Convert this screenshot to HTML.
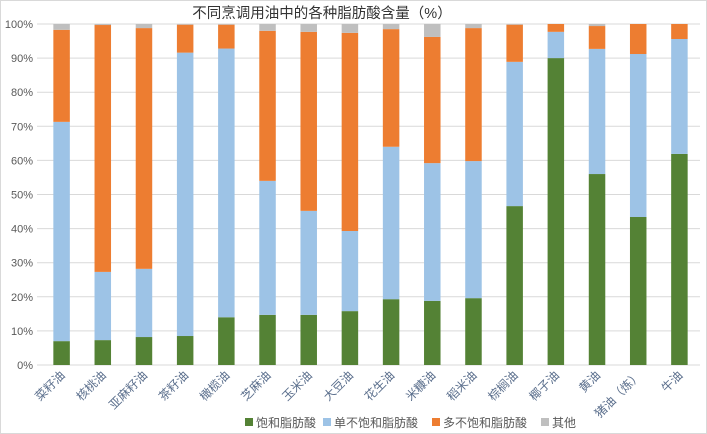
<!DOCTYPE html>
<html><head><meta charset="utf-8"><style>
html,body{margin:0;padding:0;background:#fff;}
svg{display:block;font-family:"Liberation Sans","Noto Sans CJK SC",sans-serif;}
</style></head><body>
<svg id="chart" width="707" height="434" viewBox="0 0 707 434">
<rect x="0.5" y="0.5" width="706" height="433" fill="#fff" stroke="#d9d9d9"/>
<text x="322" y="18" font-size="14.5" fill="#333" text-anchor="middle">不同烹调用油中的各种脂肪酸含量（%）</text>
<g id="grid"></g><g id="bars"></g><g id="xlabels"></g>
<g font-size="12" fill="#595959">
<rect x="245" y="418" width="8" height="8" fill="#548235"/><text x="256" y="427">饱和脂肪酸</text>
<rect x="323" y="418" width="8" height="8" fill="#9dc3e6"/><text x="334" y="427">单不饱和脂肪酸</text>
<rect x="432" y="418" width="8" height="8" fill="#ed7d31"/><text x="443" y="427">多不饱和脂肪酸</text>
<rect x="541" y="418" width="8" height="8" fill="#bfbfbf"/><text x="552" y="427">其他</text>
</g>
</svg>
<script>
const categories=["菜籽油","核桃油","亚麻籽油","茶籽油","橄榄油","芝麻油","玉米油","大豆油","花生油","米糠油","稻米油","棕榈油","椰子油","黄油","猪油（炼）","牛油"];
const saturated=[7,7.3,8.2,8.5,14,14.7,14.7,15.8,19.3,18.8,19.6,46.6,90,56,43.4,61.9];
const monounsat=[64.3,20,20,83.1,78.8,39.3,30.5,23.5,44.7,40.4,40.2,42.3,7.7,36.7,47.8,33.7];
const polyunsat=[27,72.4,70.6,8.2,7,44,52.5,58.1,34.5,37,39,10.9,2.3,6.7,8.8,4.4];
const other=[1.7,0.3,1.2,0.2,0.2,2,2.3,2.6,1.5,3.8,1.2,0.2,0,0.6,0,0];
const yTicks=[0,10,20,30,40,50,60,70,80,90,100];
const NS="http://www.w3.org/2000/svg";
const x0=41,x1=700,y0=365,y1=24;
const step=(x1-x0)/categories.length,bw=16.5;
const yS=v=>y0-(y0-y1)*v/100;
const xC=i=>x0+step*(i+0.5);
function mk(t,a,p){const e=document.createElementNS(NS,t);for(const k in a)e.setAttribute(k,a[k]);p.appendChild(e);return e;}
const grid=document.getElementById('grid');
yTicks.forEach(v=>{
 const l=mk('line',{x1:x0-4,x2:x1,y1:yS(v),y2:yS(v),stroke:'#d9d9d9','stroke-width':1},grid);
 
 
 const t=mk('text',{x:33,y:yS(v)+4,'font-size':11,fill:'#595959','text-anchor':'end'},grid);
 t.textContent=v+'%';
 
 
});
const series=[[saturated,'#548235','sat'],[monounsat,'#9dc3e6','mono'],[polyunsat,'#ed7d31','poly'],[other,'#bfbfbf','other']];
const bars=document.getElementById('bars'),xl=document.getElementById('xlabels');
categories.forEach((c,i)=>{
 let cum=0;
 series.forEach(([arr,col,nm])=>{
  const v=arr[i];const top=yS(cum+v),bot=yS(cum);
  const r=mk('rect',{x:xC(i)-bw/2,y:top,width:bw,height:Math.max(0,bot-top),fill:col},bars);
  
  
  cum+=v;
 });
 const t=mk('text',{x:xC(i)+4,y:376,'font-size':12,fill:'#5a6e8c','text-anchor':'end',transform:'rotate(-45 '+(xC(i)+4)+' 376)'},xl);
 t.textContent=c;
 
 
});
</script>
</body></html>
